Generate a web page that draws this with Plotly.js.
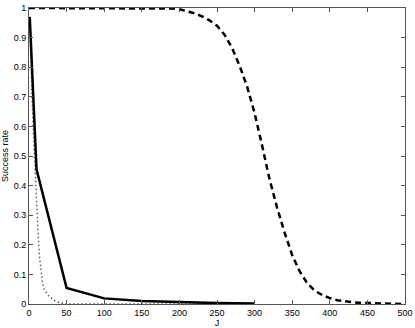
<!DOCTYPE html>
<html>
<head>
<meta charset="utf-8">
<script src="https://cdn.plot.ly/plotly-3.0.1.min.js"></script>
<style>html,body{margin:0;padding:0;background:#fff;}#chart{width:415px;height:328px;}</style>
</head>
<body>
<div id="chart"></div>
<script>
// Solid curve
const solidJ = [1, 10, 50, 100, 150, 200, 250, 300];
const solidY = [0.97, 0.455, 0.054, 0.019, 0.01, 0.006, 0.003, 0.002];

// Dotted curve
const dotJ = [1, 2, 4, 6, 8, 10, 12, 14, 16, 18, 20, 25, 30, 35, 40, 45, 50, 100, 150, 200, 250, 300];
const dotY = [0.97, 0.87, 0.7, 0.57, 0.45, 0.34, 0.245, 0.16, 0.105, 0.07, 0.05, 0.03, 0.02, 0.01, 0.005, 0.002, 0, 0, 0, 0, 0, 0];

// Dashed curve
const dashJ = [0, 50, 100, 150, 170, 180, 190, 200, 210, 220, 230, 240, 250, 260, 270, 280, 290, 300, 310, 320, 330, 340, 350, 360, 370, 380, 390, 400, 410, 420, 430, 440, 450, 460, 470, 480, 490, 500];
const dashY = [1, 1, 1, 1, 1, 0.999, 0.998, 0.996, 0.99, 0.982, 0.972, 0.958, 0.94, 0.91, 0.865, 0.805, 0.735, 0.645, 0.535, 0.42, 0.325, 0.24, 0.165, 0.11, 0.07, 0.045, 0.03, 0.02, 0.013, 0.009, 0.006, 0.004, 0.003, 0.002, 0.001, 0.001, 0, 0];

const xTicks = [0, 50, 100, 150, 200, 250, 300, 350, 400, 450, 500];
const yTicks = [0, 0.1, 0.2, 0.3, 0.4, 0.5, 0.6, 0.7, 0.8, 0.9, 1];

const traces = [
  {x: dashJ, y: dashY, mode: 'lines', line: {color: '#000', width: 2.5, dash: '6px,4px'}, hoverinfo: 'skip'},
  {x: dotJ, y: dotY, mode: 'lines', line: {color: '#555', width: 1.4, dash: '1.5px,2.5px'}, hoverinfo: 'skip'},
  {x: solidJ, y: solidY, mode: 'lines', line: {color: '#000', width: 2.5}, hoverinfo: 'skip'}
];

const axisCommon = {
  showgrid: false, zeroline: false, showline: true, linecolor: '#555', linewidth: 1,
  mirror: 'ticks', ticks: 'inside', ticklen: 4, tickcolor: '#555', tickwidth: 1,
  tickfont: {family: 'Liberation Sans, Arial, sans-serif', size: 9, color: '#000'}
};

const layout = {
  width: 415, height: 328,
  margin: {l: 29, r: 10, t: 8, b: 24},
  paper_bgcolor: '#fff', plot_bgcolor: '#fff',
  showlegend: false,
  xaxis: Object.assign({}, axisCommon, {
    range: [0, 500], tickvals: xTicks, ticktext: xTicks.map(String),
    title: {text: 'J', font: {family: 'Liberation Sans, Arial, sans-serif', size: 9, color: '#000'}, standoff: 2}
  }),
  yaxis: Object.assign({}, axisCommon, {
    range: [0, 1], tickvals: yTicks, ticktext: yTicks.map(String),
    title: {text: 'Success rate', font: {family: 'Liberation Sans, Arial, sans-serif', size: 9, color: '#000'}, standoff: 4}
  })
};

Plotly.newPlot('chart', traces, layout, {displayModeBar: false, staticPlot: true});
</script>
</body>
</html>
